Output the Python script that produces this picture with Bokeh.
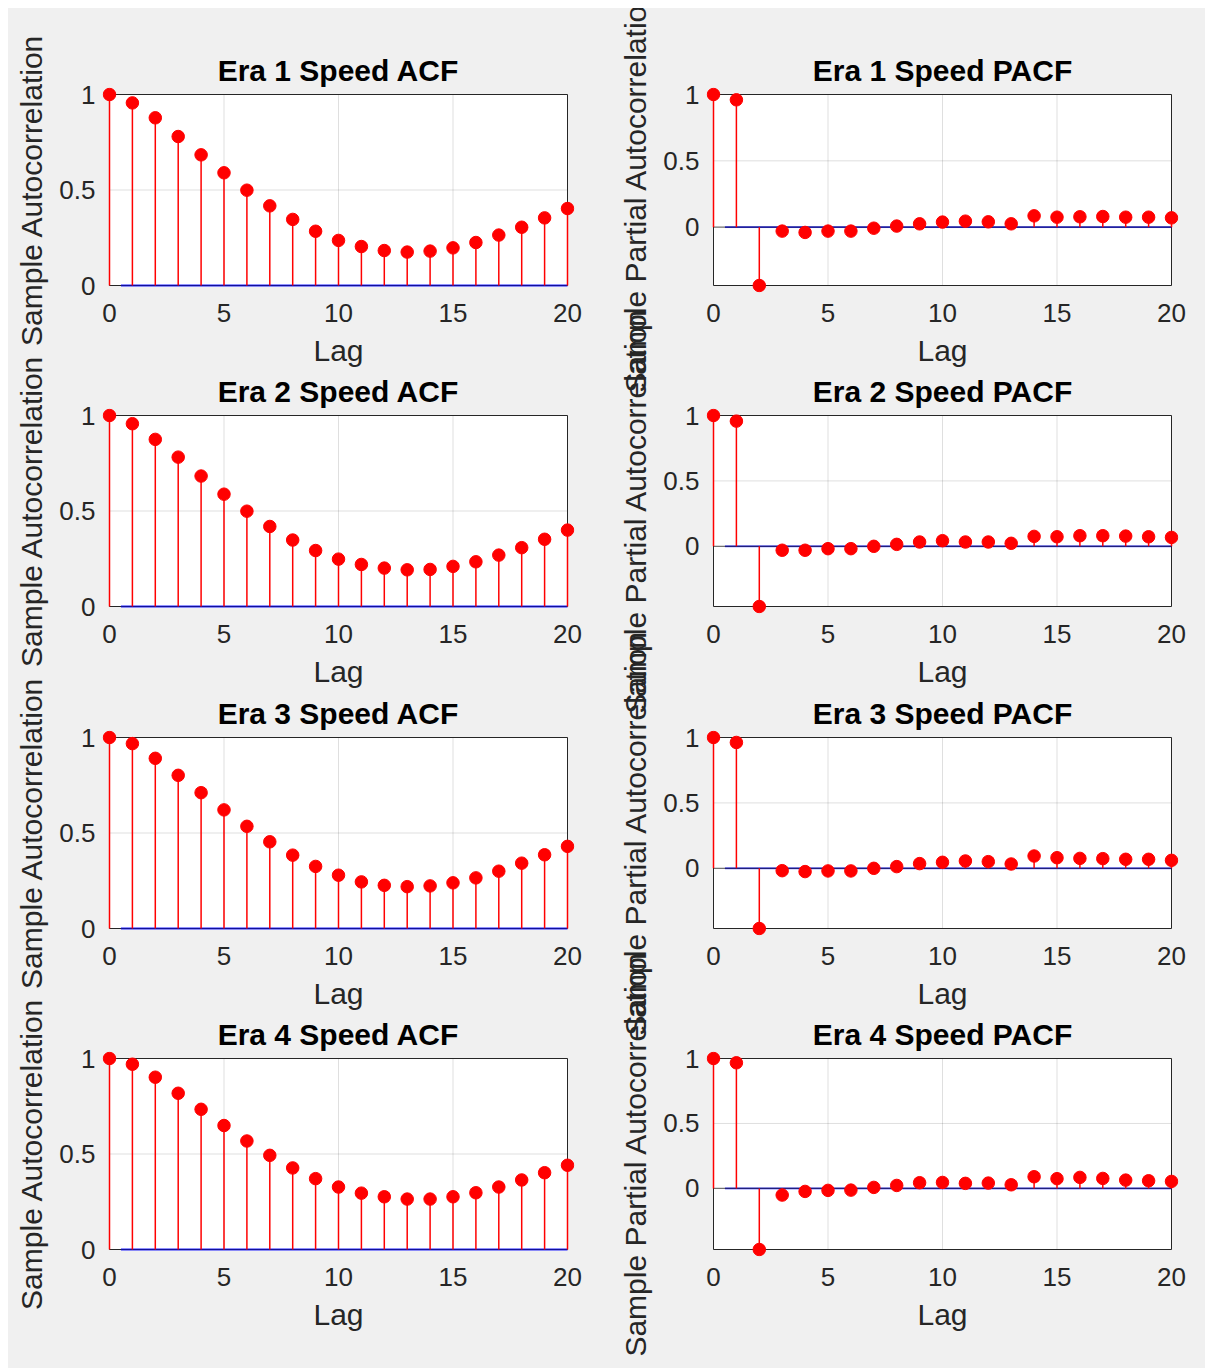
from bokeh.plotting import figure
from bokeh.layouts import row, column
from bokeh.models import FixedTicker, Range1d
from bokeh.embed import file_html
from bokeh.resources import INLINE

# ---------------- data ----------------
lags = list(range(21))
era_labels = ["Era 1", "Era 2", "Era 3", "Era 4"]

acf_era1 = [1.0, 0.956, 0.878, 0.780, 0.684, 0.590, 0.499, 0.417, 0.346, 0.284, 0.236,
            0.204, 0.183, 0.175, 0.180, 0.197, 0.225, 0.264, 0.305, 0.354, 0.403]
acf_era2 = [1.0, 0.957, 0.875, 0.782, 0.683, 0.588, 0.499, 0.419, 0.348, 0.293, 0.248,
            0.220, 0.201, 0.192, 0.194, 0.210, 0.234, 0.269, 0.308, 0.352, 0.400]
acf_era3 = [1.0, 0.968, 0.891, 0.802, 0.711, 0.621, 0.535, 0.454, 0.384, 0.325, 0.279,
            0.244, 0.226, 0.219, 0.223, 0.239, 0.265, 0.300, 0.342, 0.386, 0.430]
acf_era4 = [1.0, 0.970, 0.902, 0.818, 0.734, 0.649, 0.568, 0.493, 0.427, 0.371, 0.327,
            0.295, 0.276, 0.264, 0.264, 0.276, 0.297, 0.327, 0.364, 0.402, 0.441]

pacf_era1 = [1.0, 0.960, -0.440, -0.030, -0.040, -0.030, -0.030, -0.008, 0.008, 0.025, 0.038,
             0.045, 0.040, 0.025, 0.085, 0.075, 0.078, 0.080, 0.075, 0.075, 0.070]
pacf_era2 = [1.0, 0.957, -0.460, -0.030, -0.030, -0.018, -0.018, 0.000, 0.015, 0.033, 0.043,
             0.033, 0.033, 0.023, 0.076, 0.073, 0.081, 0.081, 0.078, 0.073, 0.068]
pacf_era3 = [1.0, 0.962, -0.460, -0.018, -0.025, -0.020, -0.020, 0.000, 0.013, 0.036, 0.046,
             0.056, 0.051, 0.033, 0.094, 0.081, 0.076, 0.074, 0.069, 0.069, 0.061]
pacf_era4 = [1.0, 0.967, -0.470, -0.051, -0.023, -0.015, -0.013, 0.008, 0.023, 0.044, 0.046,
             0.039, 0.041, 0.028, 0.090, 0.075, 0.085, 0.077, 0.064, 0.059, 0.054]

acf_series = [acf_era1, acf_era2, acf_era3, acf_era4]
pacf_series = [pacf_era1, pacf_era2, pacf_era3, pacf_era4]

conf_bound = 0.003          # approximate +/- confidence bound (tiny)
bound_lags = [0.5, 20]
x_ticks = [0, 5, 10, 15, 20]
y_ticks = [0, 0.5, 1]
y_tick_labels = {0: "0", 0.5: "0.5", 1: "1"}

# ---------------- style ----------------
FONT = "Liberation Sans"
BG = "#f0f0f0"
AX = "#262626"
BOX_W, BOX_H = 458, 191      # axes box in pixels
PAD = 7                       # room so edge markers are not cut


def make_panel(title, vals, ymin, ylabel, left, right, top, bottom, zero_line):
    xmin, xmax, ymax = lags[0], lags[-1], 1.0
    padx = PAD * (xmax - xmin) / BOX_W
    pady = PAD * (ymax - ymin) / BOX_H
    p = figure(frame_width=BOX_W + 2 * PAD, frame_height=BOX_H + 2 * PAD,
               min_border_left=left, min_border_right=right,
               min_border_top=top, min_border_bottom=bottom,
               x_range=Range1d(xmin - padx, xmax + padx),
               y_range=Range1d(ymin - pady, ymax + pady),
               output_backend="svg", toolbar_location=None, tools="")
    p.border_fill_color = None
    p.background_fill_color = None
    p.outline_line_color = None
    p.grid.visible = False

    p.title.text = title
    p.title.text_font = FONT
    p.title.text_font_size = "30px"
    p.title.text_font_style = "bold"
    p.title.text_color = "black"
    p.title.align = "center"
    p.title.standoff = 3 - (PAD - 6)

    for ax in (p.xaxis[0], p.yaxis[0]):
        ax.axis_line_color = None
        ax.major_tick_line_color = None
        ax.minor_tick_line_color = None
        ax.major_label_text_font = FONT
        ax.major_label_text_font_size = "26px"
        ax.major_label_text_color = AX
        ax.axis_label_text_font = FONT
        ax.axis_label_text_font_size = "30px"
        ax.axis_label_text_font_style = "normal"
        ax.axis_label_text_color = AX

    p.xaxis.ticker = FixedTicker(ticks=x_ticks)
    p.yaxis.ticker = FixedTicker(ticks=y_ticks)
    p.yaxis.major_label_overrides = y_tick_labels
    p.xaxis.axis_label = "Lag"
    p.yaxis.axis_label = ylabel
    p.xaxis.major_label_standoff = 6 - (PAD - 6)
    p.xaxis.axis_label_standoff = 9
    p.yaxis.major_label_standoff = 1
    p.yaxis.axis_label_standoff = 8

    # axes box (white)
    p.quad(left=[xmin], right=[xmax], bottom=[ymin], top=[ymax],
           fill_color="white", line_color=None)
    # grid lines
    p.segment(x0=x_ticks, y0=[ymin] * len(x_ticks), x1=x_ticks, y1=[ymax] * len(x_ticks),
              line_color=AX, line_alpha=0.15, line_width=1)
    p.segment(x0=[xmin] * len(y_ticks), y0=y_ticks, x1=[xmax] * len(y_ticks), y1=y_ticks,
              line_color=AX, line_alpha=0.15, line_width=1)

    # box outline
    p.quad(left=[xmin], right=[xmax], bottom=[ymin], top=[ymax],
           fill_color=None, line_color=AX, line_width=1)

    # confidence bounds and zero line
    p.line(x=bound_lags, y=[conf_bound, conf_bound], line_color="#0000ff", line_width=1, line_alpha=0.75)
    p.line(x=bound_lags, y=[-conf_bound, -conf_bound], line_color="#0000ff", line_width=1, line_alpha=0.75)
    if zero_line:
        p.line(x=[xmin, xmax], y=[0, 0], line_color="black", line_alpha=0.5, line_width=1.2)

    p.segment(x0=lags, y0=[0] * len(lags), x1=lags, y1=vals, line_color="#ff0000", line_width=1.5)
    p.scatter(x=lags, y=vals, size=12.5, fill_color="#ff0000", line_color="#ff0000")
    return p


rows = []
tops = [86 - PAD, 130 - PAD, 130 - PAD, 130 - PAD]
bottoms = [130 - PAD, 130 - PAD, 130 - PAD, 119 - PAD]
margins = [0, -130, -129, -130]
for i in range(4):
    pl = make_panel(f"{era_labels[i]} Speed ACF", acf_series[i], 0, "Sample Autocorrelation",
                    101 - PAD, 41 - PAD, tops[i], bottoms[i], False)
    pr = make_panel(f"{era_labels[i]} Speed PACF", pacf_series[i], min(pacf_series[i]),
                    "Sample Partial Autocorrelation", 105 - PAD, 34 - PAD, tops[i], bottoms[i], True)
    r = row(pl, pr, spacing=0)
    if margins[i] != 0:
        r.margin = (margins[i], 0, 0, 0)
    rows.append(r)

layout = column(*rows, spacing=0, margin=(8, 0, 0, 8), styles={"background-color": BG})

open("out.html", "w").write(file_html(layout, INLINE))
